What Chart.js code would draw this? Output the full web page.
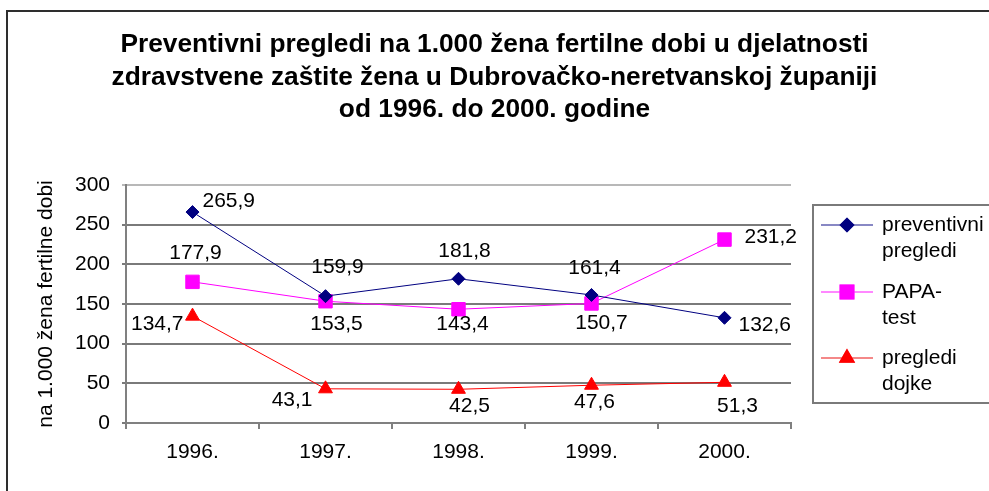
<!DOCTYPE html>
<html>
<head>
<meta charset="utf-8">
<script src="https://cdn.jsdelivr.net/npm/chart.js@4.4.1/dist/chart.umd.min.js"></script>
<style>
  html, body { margin: 0; padding: 0; background: #ffffff; overflow: hidden; }
  #wrap { position: relative; width: 989px; height: 491px; overflow: hidden; }
  #frame { position: absolute; left: 6px; top: 10px; width: 1010px; height: 520px;
           border: 2px solid #2e2e2e; box-sizing: border-box; }
  #c { position: absolute; left: 0; top: 0; }
</style>
</head>
<body>
<div id="wrap">
  <div id="frame"></div>
  <canvas id="c" width="989" height="491"></canvas>
</div>
<script>
// Godine
const years = ['1996.', '1997.', '1998.', '1999.', '2000.'];

// Stope na 1.000 žena fertilne dobi
const preventivniPregledi = [265.9, 159.9, 181.8, 161.4, 132.6];
const papaTest = [177.9, 153.5, 143.4, 150.7, 231.2];
const preglediDojke = [134.7, 43.1, 42.5, 47.6, 51.3];

// Oznake osi i naslov
const yTicks = [0, 50, 100, 150, 200, 250, 300];
const titleLines = [
  'Preventivni pregledi na 1.000 žena fertilne dobi u djelatnosti',
  'zdravstvene zaštite žena u Dubrovačko-neretvanskoj županiji',
  'od 1996. do 2000. godine'
];
const yTitle = 'na 1.000 žena fertilne dobi';
const seriesNames = ['preventivni pregledi', 'PAPA-test', 'pregledi dojke'];
const legendLines = [['preventivni', 'pregledi'], ['PAPA-', 'test'], ['pregledi', 'dojke']];

const FONT = "'Liberation Sans', Arial, sans-serif";

// Smještaj oznaka vrijednosti uz točke: [dx, dy, poravnanje]
const labelPlacement = [
  [[10, -11, 'left'], [12, -29, 'center'], [6, -28, 'center'], [3, -27, 'center'], [14, 7, 'left']],
  [[3, -29, 'center'], [11, 23, 'center'], [4, 15, 'center'], [10, 20, 'center'], [20, -2, 'left']],
  [[-9, 8, 'right'], [-13, 11, 'right'], [11, 17, 'center'], [3, 17, 'center'], [13, 24, 'center']]
];

const fmt = v => v.toFixed(1).replace('.', ',');

// Naslov centriran preko cijele slike
const pageTitle = {
  id: 'pageTitle',
  afterDraw(chart) {
    const ctx = chart.ctx;
    ctx.save();
    ctx.font = 'bold 26.3px ' + FONT;
    ctx.fillStyle = '#000000';
    ctx.textAlign = 'center';
    ctx.textBaseline = 'middle';
    titleLines.forEach((line, k) => ctx.fillText(line, chart.width / 2, 45 + k * 32.5));
    ctx.restore();
  }
};

const valueLabels = {
  id: 'valueLabels',
  afterDatasetsDraw(chart) {
    const ctx = chart.ctx;
    ctx.save();
    ctx.font = '21px ' + FONT;
    ctx.fillStyle = '#000000';
    ctx.textBaseline = 'middle';
    chart.data.datasets.forEach((ds, i) => {
      const meta = chart.getDatasetMeta(i);
      meta.data.forEach((pt, j) => {
        const [dx, dy, align] = labelPlacement[i][j];
        ctx.textAlign = align;
        ctx.fillText(fmt(ds.data[j]), pt.x + dx, pt.y + dy);
      });
    });
    ctx.restore();
  }
};

const boxLegend = {
  id: 'boxLegend',
  afterDraw(chart) {
    const ctx = chart.ctx;
    const left = 813, top = 205, height = 198;
    ctx.save();
    ctx.strokeStyle = '#7a7a7a';
    ctx.lineWidth = 2;
    ctx.strokeRect(left, top, 200, height);
    ctx.font = '21px ' + FONT;
    ctx.textBaseline = 'middle';
    ctx.textAlign = 'left';
    const rowY = [225, 292, 358];
    chart.data.datasets.forEach((ds, i) => {
      const y = rowY[i];
      ctx.strokeStyle = ds.legendLine;
      ctx.lineWidth = 1.5;
      ctx.beginPath();
      ctx.moveTo(821, y);
      ctx.lineTo(873, y);
      ctx.stroke();
      Chart.helpers.drawPoint(ctx, {
        pointStyle: ds.pointStyle,
        radius: ds.pointRadius,
        borderWidth: 1,
        rotation: 0
      }, 847, y);
      ctx.fillStyle = ds.pointBackgroundColor;
      ctx.strokeStyle = ds.pointBorderColor;
      ctx.fill();
      ctx.stroke();
      ctx.fillStyle = '#000000';
      legendLines[i].forEach((line, k) => ctx.fillText(line, 882, y + k * 26));
    });
    ctx.restore();
  }
};

new Chart(document.getElementById('c'), {
  type: 'line',
  data: {
    labels: years,
    datasets: [
      {
        label: seriesNames[0], data: preventivniPregledi,
        borderColor: '#000080', borderWidth: 1, legendLine: '#6060b0',
        pointStyle: 'rectRot', pointRadius: 6.5,
        pointBackgroundColor: '#000080', pointBorderColor: '#000080', pointBorderWidth: 1
      },
      {
        label: seriesNames[1], data: papaTest,
        borderColor: '#ff00ff', borderWidth: 1, legendLine: '#ff60ff',
        pointStyle: 'rect', pointRadius: 9.5,
        pointBackgroundColor: '#ff00ff', pointBorderColor: '#ff00ff', pointBorderWidth: 1
      },
      {
        label: seriesNames[2], data: preglediDojke,
        borderColor: '#ff0000', borderWidth: 1, legendLine: '#f06060',
        pointStyle: 'triangle', pointRadius: 8,
        pointBackgroundColor: '#ff0000', pointBorderColor: '#ff0000', pointBorderWidth: 1
      }
    ]
  },
  options: {
    responsive: false,
    animation: false,
    devicePixelRatio: 1,
    layout: { padding: { left: 0, right: 198, top: 185, bottom: 0 } },
    plugins: {
      legend: { display: false },
      tooltip: { enabled: false },
      title: { display: false }
    },
    scales: {
      x: {
        offset: true,
        grid: { offset: true, drawOnChartArea: false, drawTicks: true, tickLength: 6, color: '#808080', lineWidth: 2 },
        border: { display: true, color: '#808080', width: 2 },
        ticks: { color: '#000000', font: { family: FONT, size: 21 }, padding: 11 },
        afterFit(scale) { scale.height = 68; }
      },
      y: {
        min: 0, max: 300,
        afterBuildTicks(scale) { scale.ticks = yTicks.map(v => ({ value: v })); },
        grid: {
          color: c => (c.tick && c.tick.value === 300 ? '#b8b8b8' : '#7a7a7a'),
          lineWidth: 2, tickLength: 4, drawTicks: true
        },
        border: { display: true, color: '#808080', width: 2 },
        ticks: { color: '#000000', font: { family: FONT, size: 21 }, padding: 12 },
        title: {
          display: true, text: yTitle, color: '#000000',
          font: { family: FONT, size: 21 }, padding: { top: 34, bottom: 0 }
        },
        afterFit(scale) { scale.width = 126; }
      }
    }
  },
  plugins: [valueLabels, boxLegend, pageTitle]
});
</script>
</body>
</html>
